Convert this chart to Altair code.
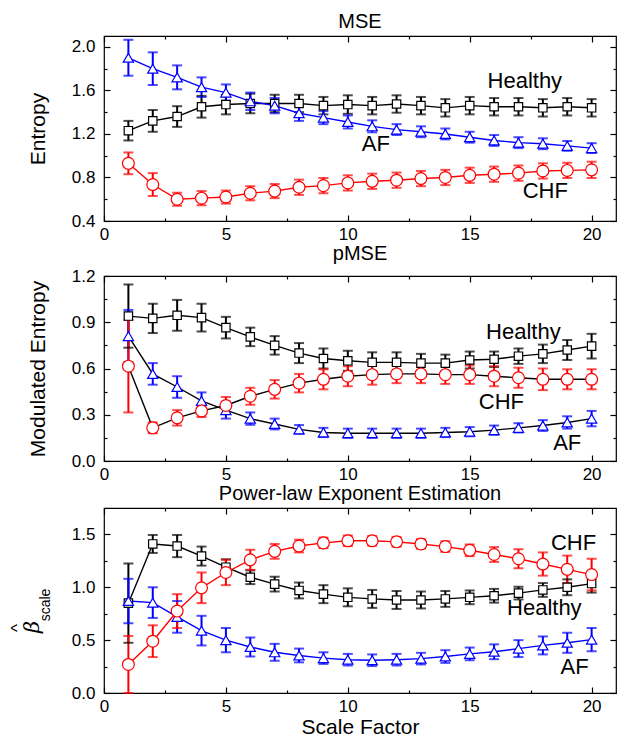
import altair as alt
import pandas as pd

FONT = "Liberation Sans"
scale_factor = list(range(1, 21))
series_names = ["Healthy", "AF", "CHF"]
series_colors = ["#000000", "#0000ff", "#ff0000"]
series_shapes = ["square", "triangle-up", "circle"]
series_sizes = [70, 140, 100]

# ---- Panel 1: MSE ----
mse_healthy = [1.23, 1.32, 1.36, 1.45, 1.47, 1.48, 1.48, 1.48, 1.46, 1.47, 1.46, 1.475, 1.46, 1.44, 1.46, 1.45, 1.45, 1.44, 1.45, 1.44]
mse_healthy_err = [0.09, 0.10, 0.095, 0.10, 0.09, 0.09, 0.08, 0.08, 0.08, 0.085, 0.08, 0.08, 0.08, 0.08, 0.08, 0.08, 0.08, 0.08, 0.08, 0.08]
mse_af = [1.90, 1.80, 1.72, 1.63, 1.58, 1.50, 1.46, 1.39, 1.35, 1.31, 1.27, 1.24, 1.22, 1.20, 1.17, 1.14, 1.12, 1.11, 1.09, 1.07]
mse_af_err = [0.165, 0.15, 0.11, 0.09, 0.075, 0.08, 0.07, 0.07, 0.06, 0.06, 0.055, 0.05, 0.05, 0.05, 0.05, 0.05, 0.05, 0.05, 0.045, 0.045]
mse_chf = [0.93, 0.735, 0.60, 0.61, 0.62, 0.655, 0.675, 0.71, 0.725, 0.75, 0.765, 0.775, 0.79, 0.80, 0.82, 0.83, 0.84, 0.86, 0.865, 0.87]
mse_chf_err = [0.10, 0.105, 0.06, 0.065, 0.06, 0.065, 0.065, 0.07, 0.07, 0.07, 0.07, 0.07, 0.07, 0.07, 0.07, 0.07, 0.07, 0.07, 0.07, 0.075]

# ---- Panel 2: pMSE ----
pmse_healthy = [0.94, 0.925, 0.945, 0.93, 0.865, 0.805, 0.75, 0.70, 0.665, 0.65, 0.64, 0.64, 0.635, 0.635, 0.655, 0.66, 0.68, 0.695, 0.72, 0.745]
pmse_healthy_err = [0.205, 0.095, 0.10, 0.09, 0.07, 0.06, 0.06, 0.065, 0.065, 0.065, 0.065, 0.065, 0.06, 0.055, 0.055, 0.05, 0.05, 0.06, 0.065, 0.08]
pmse_af = [0.81, 0.565, 0.48, 0.39, 0.33, 0.275, 0.24, 0.205, 0.185, 0.18, 0.18, 0.18, 0.18, 0.185, 0.19, 0.20, 0.215, 0.23, 0.25, 0.275]
pmse_af_err = [0.17, 0.07, 0.07, 0.055, 0.055, 0.04, 0.035, 0.028, 0.03, 0.03, 0.03, 0.03, 0.03, 0.03, 0.03, 0.03, 0.03, 0.035, 0.04, 0.05]
pmse_chf = [0.615, 0.215, 0.28, 0.325, 0.36, 0.42, 0.465, 0.505, 0.53, 0.55, 0.56, 0.565, 0.565, 0.56, 0.56, 0.55, 0.54, 0.53, 0.53, 0.53]
pmse_chf_err = [0.30, 0.035, 0.05, 0.04, 0.055, 0.055, 0.06, 0.06, 0.065, 0.065, 0.065, 0.06, 0.06, 0.06, 0.06, 0.065, 0.065, 0.07, 0.065, 0.065]

# ---- Panel 3: power-law exponent ----
beta_healthy = [0.85, 1.41, 1.39, 1.295, 1.19, 1.095, 1.03, 0.97, 0.935, 0.905, 0.89, 0.88, 0.88, 0.89, 0.905, 0.92, 0.945, 0.975, 1.00, 1.035]
beta_healthy_err = [0.375, 0.085, 0.105, 0.09, 0.075, 0.065, 0.07, 0.075, 0.085, 0.085, 0.085, 0.085, 0.08, 0.075, 0.065, 0.065, 0.06, 0.065, 0.075, 0.085]
beta_af = [0.87, 0.855, 0.72, 0.59, 0.50, 0.435, 0.385, 0.355, 0.33, 0.315, 0.31, 0.315, 0.325, 0.345, 0.37, 0.39, 0.42, 0.45, 0.475, 0.505]
beta_af_err = [0.21, 0.145, 0.15, 0.14, 0.115, 0.09, 0.08, 0.065, 0.055, 0.055, 0.055, 0.055, 0.055, 0.06, 0.06, 0.07, 0.08, 0.085, 0.095, 0.11]
beta_chf = [0.27, 0.49, 0.775, 0.995, 1.14, 1.26, 1.34, 1.39, 1.42, 1.44, 1.44, 1.43, 1.41, 1.385, 1.35, 1.31, 1.27, 1.22, 1.17, 1.12]
beta_chf_err = [0.27, 0.15, 0.16, 0.145, 0.12, 0.095, 0.07, 0.06, 0.05, 0.05, 0.045, 0.045, 0.045, 0.05, 0.055, 0.07, 0.09, 0.11, 0.13, 0.15]

# ---- annotations (label, x, y) ----
mse_labels = ["Healthy", "AF", "CHF"]
mse_label_x = [17.26, 11.15, 18.1]
mse_label_y = [1.69, 1.11, 0.677]
pmse_labels = ["Healthy", "CHF", "AF"]
pmse_label_x = [17.2, 16.3, 19.0]
pmse_label_y = [0.84, 0.385, 0.117]
beta_labels = ["CHF", "Healthy", "AF"]
beta_label_x = [19.26, 18.06, 19.3]
beta_label_y = [1.42, 0.80, 0.245]

x_major = [0, 5, 10, 15, 20]
x_minor = [2.5, 7.5, 12.5, 17.5]

W, H = 512, 185


def make_df(h, he, a, ae, c, ce):
    rows = []
    for name, v, e in [("Healthy", h, he), ("AF", a, ae), ("CHF", c, ce)]:
        for s, vi, ei in zip(scale_factor, v, e):
            rows.append(dict(series=name, sf=s, value=vi, lo=max(vi - ei, 0), hi=vi + ei))
    return pd.DataFrame(rows)


def lab_axis(orient, values, title, fmt, pad, tpad):
    kw = dict(orient=orient, values=values, ticks=False, tickSize=0, domain=False, grid=False,
              labelFont=FONT, labelFontSize=17, labelColor="black", labelPadding=pad,
              labelFlush=False, labelOverlap=False, format=fmt,
              titleFont=FONT, titleFontSize=21, titleFontWeight="normal", titleColor="black",
              titlePadding=tpad, title=title)
    return alt.Axis(**kw)


def tick_axis(orient, values, size):
    return alt.Axis(orient=orient, values=values, ticks=True, tickSize=size, offset=-size,
                    labels=False, domain=False, grid=False, title=None,
                    tickColor="black", tickWidth=1.2)


def panel(df, labdf, ydom, ymaj, ymin, ytitle, title, line_black=False, xtitle=None, beta=False):
    xs = alt.Scale(domain=[0, 21], nice=False, zero=False)
    ys = alt.Scale(domain=ydom, nice=False, zero=False)
    color = alt.Color("series:N", scale=alt.Scale(domain=series_names, range=series_colors), legend=None)

    def X(field, axis):
        return alt.X(field, type="quantitative", scale=xs, axis=axis)

    def Y(field, axis):
        return alt.Y(field, type="quantitative", scale=ys, axis=axis)

    base = alt.Chart(df)
    err = base.mark_rule(strokeWidth=2).encode(
        x=X("sf", lab_axis("bottom", x_major, xtitle, "d", 5, 2)),
        y=Y("lo", lab_axis("left", ymaj, ytitle, ".1f", 9, 23)),
        y2="hi", color=color)
    caps = base.transform_fold(["lo", "hi"], as_=["k", "cap"]).mark_tick(
        orient="horizontal", size=10, thickness=2).encode(
        x=X("sf", tick_axis("bottom", x_major, 6)),
        y=Y("cap:Q", tick_axis("left", ymaj, 6)),
        color=color)
    if line_black:
        lcol = alt.value("black")
    else:
        lcol = color
    lines = base.mark_line(strokeWidth=1.4).encode(
        x=X("sf", tick_axis("bottom", x_minor, 3)),
        y=Y("value", tick_axis("left", ymin, 3)),
        color=lcol, detail="series:N")
    points = base.mark_point(filled=True, fill="white", fillOpacity=1, opacity=1, strokeWidth=1.2).encode(
        x=X("sf", tick_axis("top", x_major, 6)),
        y=Y("value", tick_axis("right", ymaj, 6)),
        stroke=alt.Stroke("series:N", scale=alt.Scale(domain=series_names, range=series_colors), legend=None),
        shape=alt.Shape("series:N", scale=alt.Scale(domain=series_names, range=series_shapes), legend=None),
        size=alt.Size("series:N", scale=alt.Scale(domain=series_names, range=series_sizes), legend=None))
    texts = alt.Chart(labdf).mark_text(font=FONT, fontSize=22, color="black").encode(
        x=X("lx", tick_axis("top", x_minor, 3)),
        y=Y("ly", tick_axis("right", ymin, 3)),
        text="label:N")
    layers = [err, caps, lines, points, texts]
    if beta:
        layers.append(alt.Chart(pd.DataFrame({"t": ["β"]})).mark_text(
            font="DejaVu Serif", fontSize=21, fontStyle="italic", angle=270, color="black",
            align="center", baseline="middle").encode(x=alt.value(-71), y=alt.value(119), text="t:N"))
        layers.append(alt.Chart(pd.DataFrame({"t": ["^"]})).mark_text(
            font=FONT, fontSize=17, angle=270, color="black",
            align="center", baseline="middle").encode(x=alt.value(-86), y=alt.value(120), text="t:N"))
        layers.append(alt.Chart(pd.DataFrame({"t": ["scale"]})).mark_text(
            font=FONT, fontSize=14, angle=270, color="black",
            align="center", baseline="middle").encode(x=alt.value(-58), y=alt.value(97), text="t:N"))
    return alt.layer(*layers).resolve_axis(x="independent", y="independent").properties(
        width=W, height=H,
        title=alt.TitleParams(title, font=FONT, fontSize=20, fontWeight="normal", color="black",
                              anchor="middle", frame="group", offset=3))


df1 = make_df(mse_healthy, mse_healthy_err, mse_af, mse_af_err, mse_chf, mse_chf_err)
df2 = make_df(pmse_healthy, pmse_healthy_err, pmse_af, pmse_af_err, pmse_chf, pmse_chf_err)
df3 = make_df(beta_healthy, beta_healthy_err, beta_af, beta_af_err, beta_chf, beta_chf_err)
lab1 = pd.DataFrame({"label": mse_labels, "lx": mse_label_x, "ly": mse_label_y})
lab2 = pd.DataFrame({"label": pmse_labels, "lx": pmse_label_x, "ly": pmse_label_y})
lab3 = pd.DataFrame({"label": beta_labels, "lx": beta_label_x, "ly": beta_label_y})

p1 = panel(df1, lab1, [0.4, 2.1], [0.4, 0.8, 1.2, 1.6, 2.0], [0.6, 1.0, 1.4, 1.8], "Entropy", "MSE")
p2 = panel(df2, lab2, [0.0, 1.2], [0.0, 0.3, 0.6, 0.9, 1.2], [0.15, 0.45, 0.75, 1.05],
           "Modulated Entropy", "pMSE", line_black=True)
p3 = panel(df3, lab3, [0.0, 1.75], [0.0, 0.5, 1.0, 1.5], [0.25, 0.75, 1.25], None,
           "Power-law Exponent Estimation", xtitle="Scale Factor", beta=True)

chart = alt.vconcat(p1, p2, p3, spacing=0).configure_view(
    stroke="black", strokeWidth=1.2).properties(
    padding={"left": 0, "top": 3, "right": 0, "bottom": 0})

chart.save("out.html", embed_options={"renderer": "svg", "actions": False})
